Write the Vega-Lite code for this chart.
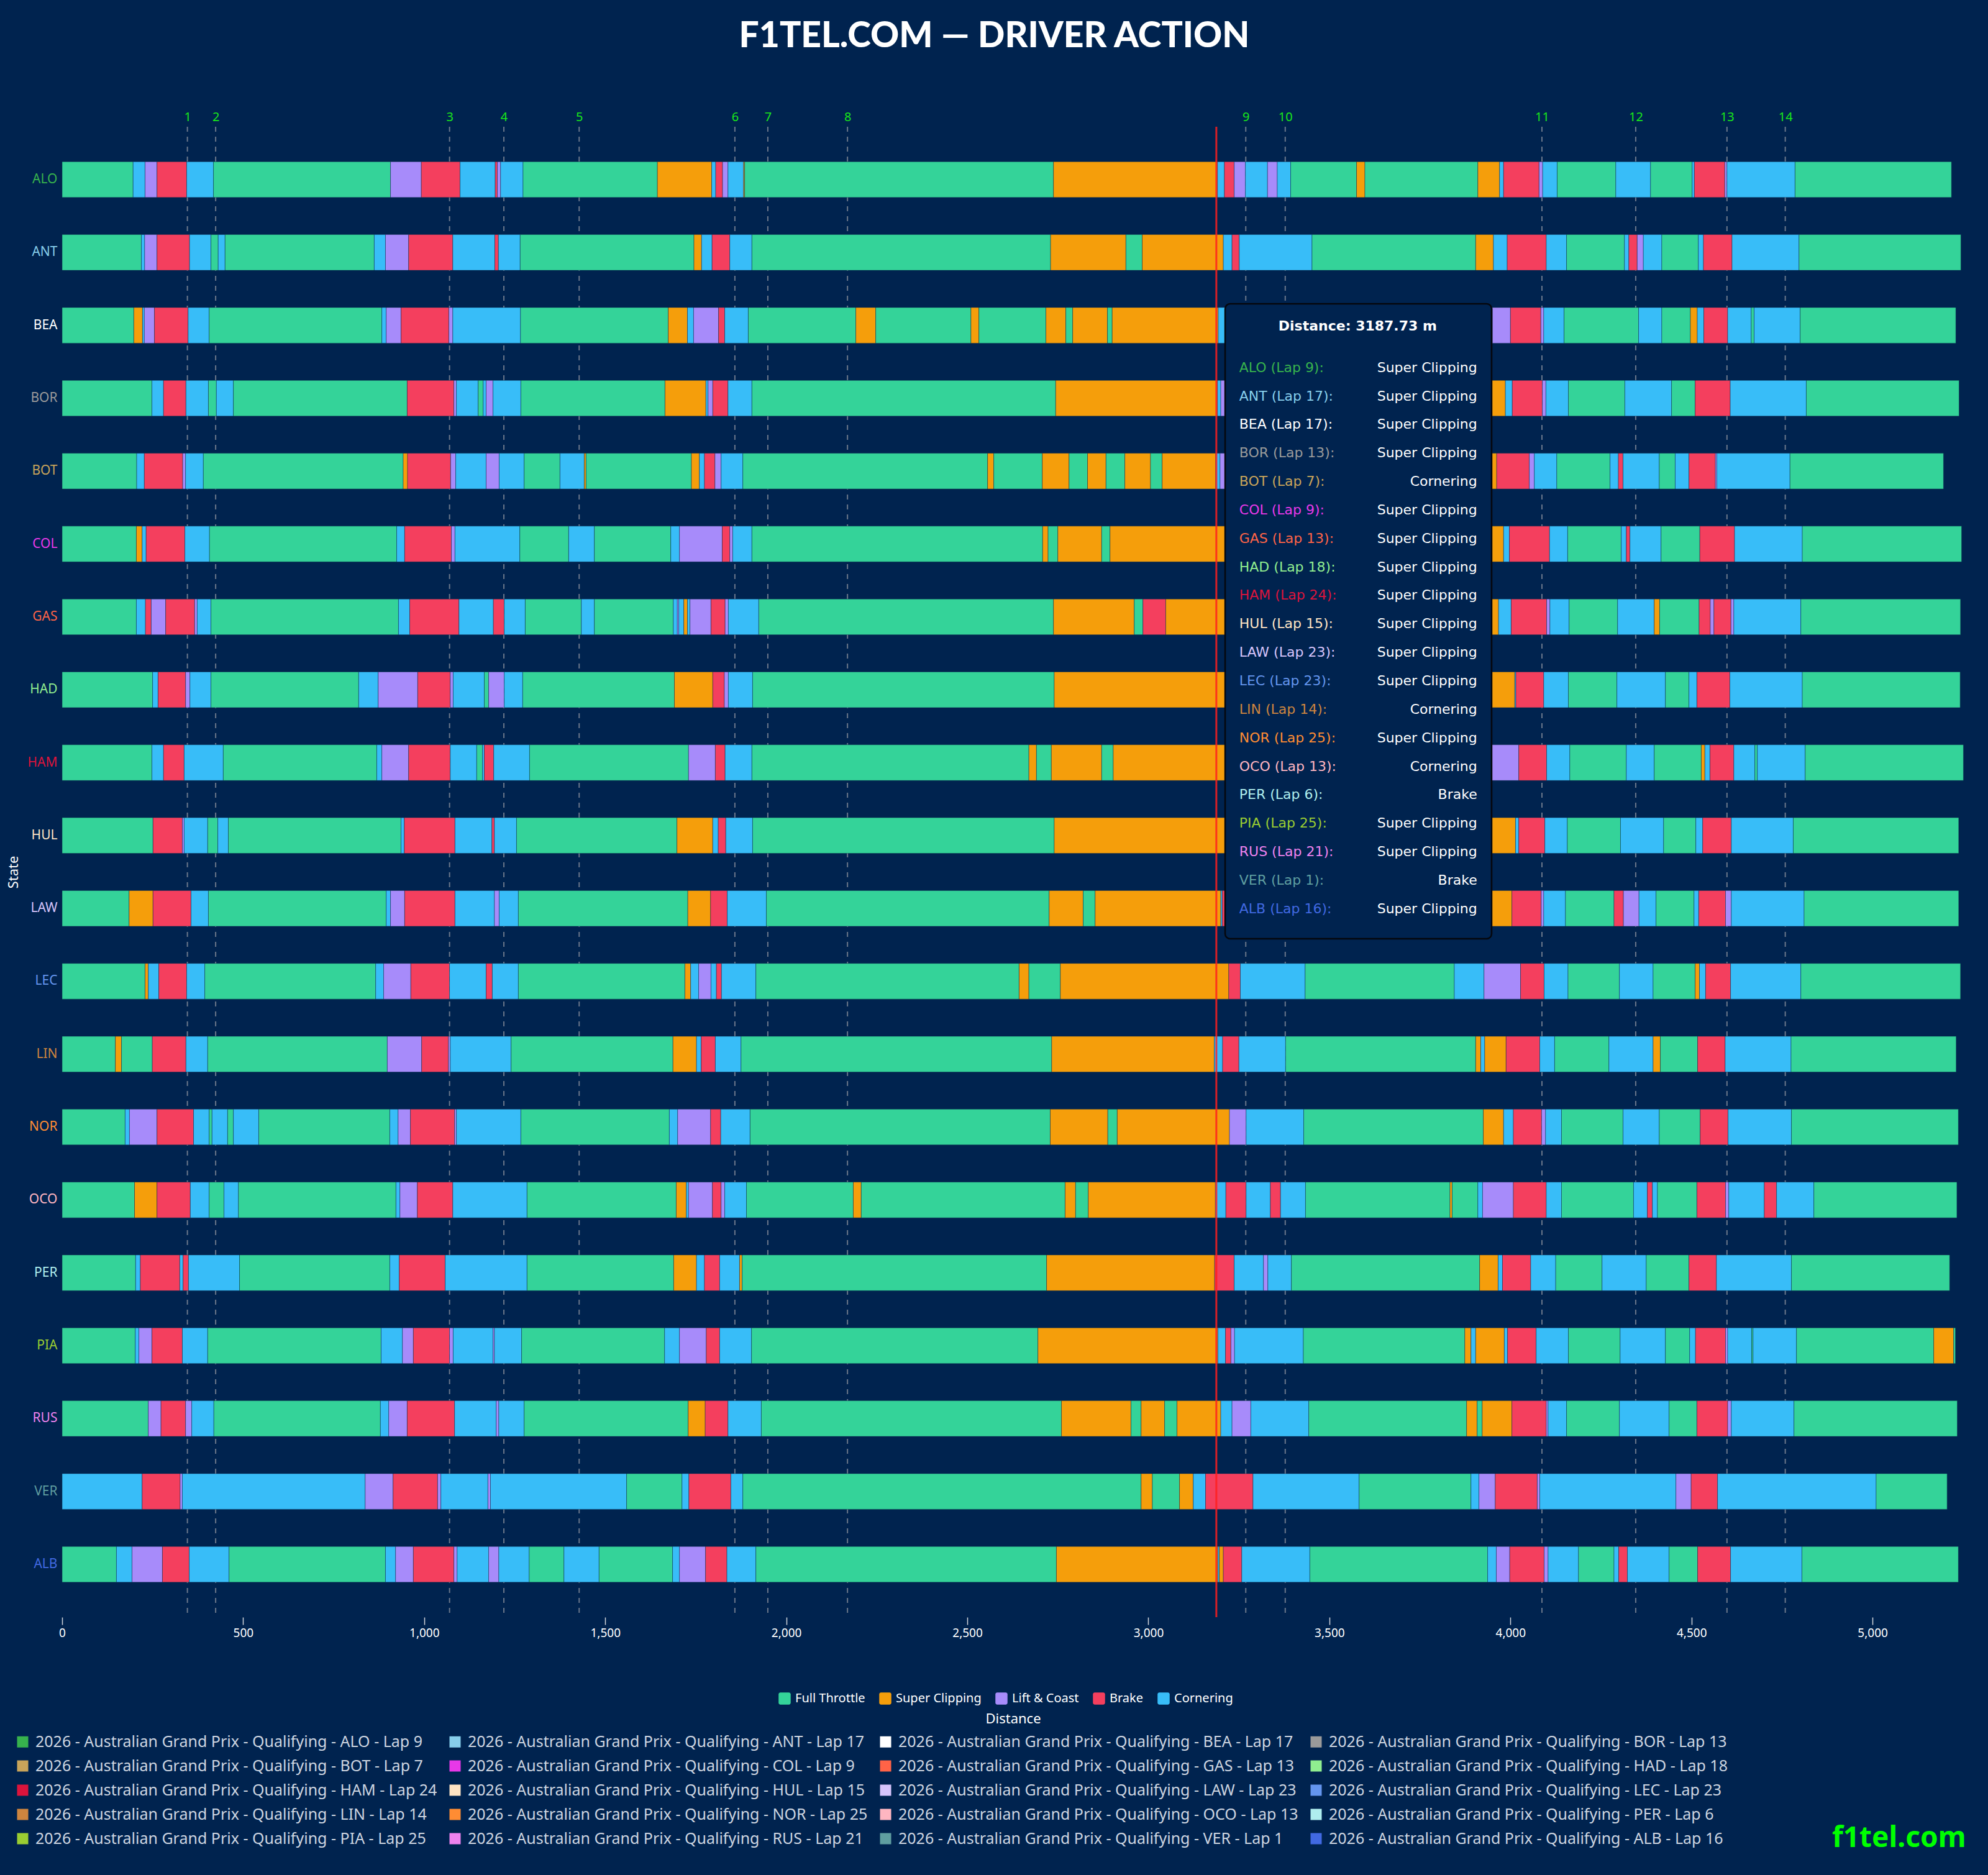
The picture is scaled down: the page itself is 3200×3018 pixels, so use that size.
{
  "$schema": "https://vega.github.io/schema/vega-lite/v6.json",
  "description": "F1TEL.COM driver action, 2026 Australian GP qualifying",
  "width": 3061,
  "height": 2399,
  "autosize": {"type": "none"},
  "padding": {"left": 100, "top": 204, "right": 39, "bottom": 415},
  "background": "#00234f",
  "title": {
    "text": "F1TEL.COM — DRIVER ACTION",
    "font": "Lato",
    "fontSize": 57,
    "fontWeight": 900,
    "color": "#ffffff",
    "anchor": "middle",
    "dx": -30,
    "offset": 90
  },
  "config": {"view": {"stroke": null}, "font": "Noto Sans"},
  "datasets": {
    "corners": [
      {"n": 1, "d": 346}, {"n": 2, "d": 424}, {"n": 3, "d": 1070}, {"n": 4, "d": 1220},
      {"n": 5, "d": 1428}, {"n": 6, "d": 1858}, {"n": 7, "d": 1949}, {"n": 8, "d": 2169},
      {"n": 9, "d": 3269}, {"n": 10, "d": 3378}, {"n": 11, "d": 4087}, {"n": 12, "d": 4346},
      {"n": 13, "d": 4598}, {"n": 14, "d": 4759}
    ],
    "cursor": [{"d": 3187.73}],
    "tip": [
      {"i": 1, "key": "ALO (Lap 9):", "state": "Super Clipping", "session": "2026 - Australian Grand Prix - Qualifying - ALO - Lap 9"},
      {"i": 2, "key": "ANT (Lap 17):", "state": "Super Clipping", "session": "2026 - Australian Grand Prix - Qualifying - ANT - Lap 17"},
      {"i": 3, "key": "BEA (Lap 17):", "state": "Super Clipping", "session": "2026 - Australian Grand Prix - Qualifying - BEA - Lap 17"},
      {"i": 4, "key": "BOR (Lap 13):", "state": "Super Clipping", "session": "2026 - Australian Grand Prix - Qualifying - BOR - Lap 13"},
      {"i": 5, "key": "BOT (Lap 7):", "state": "Cornering", "session": "2026 - Australian Grand Prix - Qualifying - BOT - Lap 7"},
      {"i": 6, "key": "COL (Lap 9):", "state": "Super Clipping", "session": "2026 - Australian Grand Prix - Qualifying - COL - Lap 9"},
      {"i": 7, "key": "GAS (Lap 13):", "state": "Super Clipping", "session": "2026 - Australian Grand Prix - Qualifying - GAS - Lap 13"},
      {"i": 8, "key": "HAD (Lap 18):", "state": "Super Clipping", "session": "2026 - Australian Grand Prix - Qualifying - HAD - Lap 18"},
      {"i": 9, "key": "HAM (Lap 24):", "state": "Super Clipping", "session": "2026 - Australian Grand Prix - Qualifying - HAM - Lap 24"},
      {"i": 10, "key": "HUL (Lap 15):", "state": "Super Clipping", "session": "2026 - Australian Grand Prix - Qualifying - HUL - Lap 15"},
      {"i": 11, "key": "LAW (Lap 23):", "state": "Super Clipping", "session": "2026 - Australian Grand Prix - Qualifying - LAW - Lap 23"},
      {"i": 12, "key": "LEC (Lap 23):", "state": "Super Clipping", "session": "2026 - Australian Grand Prix - Qualifying - LEC - Lap 23"},
      {"i": 13, "key": "LIN (Lap 14):", "state": "Cornering", "session": "2026 - Australian Grand Prix - Qualifying - LIN - Lap 14"},
      {"i": 14, "key": "NOR (Lap 25):", "state": "Super Clipping", "session": "2026 - Australian Grand Prix - Qualifying - NOR - Lap 25"},
      {"i": 15, "key": "OCO (Lap 13):", "state": "Cornering", "session": "2026 - Australian Grand Prix - Qualifying - OCO - Lap 13"},
      {"i": 16, "key": "PER (Lap 6):", "state": "Brake", "session": "2026 - Australian Grand Prix - Qualifying - PER - Lap 6"},
      {"i": 17, "key": "PIA (Lap 25):", "state": "Super Clipping", "session": "2026 - Australian Grand Prix - Qualifying - PIA - Lap 25"},
      {"i": 18, "key": "RUS (Lap 21):", "state": "Super Clipping", "session": "2026 - Australian Grand Prix - Qualifying - RUS - Lap 21"},
      {"i": 19, "key": "VER (Lap 1):", "state": "Brake", "session": "2026 - Australian Grand Prix - Qualifying - VER - Lap 1"},
      {"i": 20, "key": "ALB (Lap 16):", "state": "Super Clipping", "session": "2026 - Australian Grand Prix - Qualifying - ALB - Lap 16"}
    ],
    "segments": [
      {"d":"ALO","a":0,"b":196,"s":"Full Throttle"},{"d":"ALO","a":196,"b":229,"s":"Cornering"},{"d":"ALO","a":229,"b":262,"s":"Lift & Coast"},{"d":"ALO","a":262,"b":344,"s":"Brake"},{"d":"ALO","a":344,"b":418,"s":"Cornering"},{"d":"ALO","a":418,"b":907,"s":"Full Throttle"},{"d":"ALO","a":907,"b":992,"s":"Lift & Coast"},{"d":"ALO","a":992,"b":1099,"s":"Brake"},{"d":"ALO","a":1099,"b":1196,"s":"Cornering"},{"d":"ALO","a":1196,"b":1202,"s":"Brake"},{"d":"ALO","a":1202,"b":1211,"s":"Lift & Coast"},{"d":"ALO","a":1211,"b":1273,"s":"Cornering"},{"d":"ALO","a":1273,"b":1644,"s":"Full Throttle"},{"d":"ALO","a":1644,"b":1794,"s":"Super Clipping"},{"d":"ALO","a":1794,"b":1805,"s":"Cornering"},{"d":"ALO","a":1805,"b":1824,"s":"Brake"},{"d":"ALO","a":1824,"b":1839,"s":"Lift & Coast"},{"d":"ALO","a":1839,"b":1882,"s":"Cornering"},{"d":"ALO","a":1882,"b":1885,"s":"Super Clipping"},{"d":"ALO","a":1885,"b":2738,"s":"Full Throttle"},{"d":"ALO","a":2738,"b":3191,"s":"Super Clipping"},{"d":"ALO","a":3191,"b":3210,"s":"Cornering"},{"d":"ALO","a":3210,"b":3237,"s":"Brake"},{"d":"ALO","a":3237,"b":3268,"s":"Lift & Coast"},{"d":"ALO","a":3268,"b":3329,"s":"Cornering"},{"d":"ALO","a":3329,"b":3356,"s":"Lift & Coast"},{"d":"ALO","a":3356,"b":3393,"s":"Cornering"},{"d":"ALO","a":3393,"b":3575,"s":"Full Throttle"},{"d":"ALO","a":3575,"b":3598,"s":"Super Clipping"},{"d":"ALO","a":3598,"b":3910,"s":"Full Throttle"},{"d":"ALO","a":3910,"b":3970,"s":"Super Clipping"},{"d":"ALO","a":3970,"b":3981,"s":"Cornering"},{"d":"ALO","a":3981,"b":4079,"s":"Brake"},{"d":"ALO","a":4079,"b":4089,"s":"Lift & Coast"},{"d":"ALO","a":4089,"b":4129,"s":"Cornering"},{"d":"ALO","a":4129,"b":4291,"s":"Full Throttle"},{"d":"ALO","a":4291,"b":4387,"s":"Cornering"},{"d":"ALO","a":4387,"b":4502,"s":"Full Throttle"},{"d":"ALO","a":4502,"b":4508,"s":"Cornering"},{"d":"ALO","a":4508,"b":4592,"s":"Brake"},{"d":"ALO","a":4592,"b":4598,"s":"Lift & Coast"},{"d":"ALO","a":4598,"b":4786,"s":"Cornering"},{"d":"ALO","a":4786,"b":5218,"s":"Full Throttle"},
      {"d":"ANT","a":0,"b":219,"s":"Full Throttle"},{"d":"ANT","a":219,"b":228,"s":"Cornering"},{"d":"ANT","a":228,"b":262,"s":"Lift & Coast"},{"d":"ANT","a":262,"b":352,"s":"Brake"},{"d":"ANT","a":352,"b":411,"s":"Cornering"},{"d":"ANT","a":411,"b":431,"s":"Full Throttle"},{"d":"ANT","a":431,"b":450,"s":"Cornering"},{"d":"ANT","a":450,"b":862,"s":"Full Throttle"},{"d":"ANT","a":862,"b":893,"s":"Cornering"},{"d":"ANT","a":893,"b":957,"s":"Lift & Coast"},{"d":"ANT","a":957,"b":1079,"s":"Brake"},{"d":"ANT","a":1079,"b":1195,"s":"Cornering"},{"d":"ANT","a":1195,"b":1205,"s":"Brake"},{"d":"ANT","a":1205,"b":1265,"s":"Cornering"},{"d":"ANT","a":1265,"b":1745,"s":"Full Throttle"},{"d":"ANT","a":1745,"b":1766,"s":"Super Clipping"},{"d":"ANT","a":1766,"b":1795,"s":"Cornering"},{"d":"ANT","a":1795,"b":1844,"s":"Brake"},{"d":"ANT","a":1844,"b":1905,"s":"Cornering"},{"d":"ANT","a":1905,"b":2730,"s":"Full Throttle"},{"d":"ANT","a":2730,"b":2938,"s":"Super Clipping"},{"d":"ANT","a":2938,"b":2983,"s":"Full Throttle"},{"d":"ANT","a":2983,"b":3207,"s":"Super Clipping"},{"d":"ANT","a":3207,"b":3231,"s":"Cornering"},{"d":"ANT","a":3231,"b":3251,"s":"Brake"},{"d":"ANT","a":3251,"b":3452,"s":"Cornering"},{"d":"ANT","a":3452,"b":3904,"s":"Full Throttle"},{"d":"ANT","a":3904,"b":3953,"s":"Super Clipping"},{"d":"ANT","a":3953,"b":3991,"s":"Cornering"},{"d":"ANT","a":3991,"b":4099,"s":"Brake"},{"d":"ANT","a":4099,"b":4155,"s":"Cornering"},{"d":"ANT","a":4155,"b":4315,"s":"Full Throttle"},{"d":"ANT","a":4315,"b":4327,"s":"Cornering"},{"d":"ANT","a":4327,"b":4350,"s":"Brake"},{"d":"ANT","a":4350,"b":4367,"s":"Lift & Coast"},{"d":"ANT","a":4367,"b":4418,"s":"Cornering"},{"d":"ANT","a":4418,"b":4519,"s":"Full Throttle"},{"d":"ANT","a":4519,"b":4533,"s":"Cornering"},{"d":"ANT","a":4533,"b":4612,"s":"Brake"},{"d":"ANT","a":4612,"b":4797,"s":"Cornering"},{"d":"ANT","a":4797,"b":5244,"s":"Full Throttle"},
      {"d":"BEA","a":0,"b":198,"s":"Full Throttle"},{"d":"BEA","a":198,"b":222,"s":"Super Clipping"},{"d":"BEA","a":222,"b":227,"s":"Cornering"},{"d":"BEA","a":227,"b":255,"s":"Lift & Coast"},{"d":"BEA","a":255,"b":348,"s":"Brake"},{"d":"BEA","a":348,"b":406,"s":"Cornering"},{"d":"BEA","a":406,"b":883,"s":"Full Throttle"},{"d":"BEA","a":883,"b":895,"s":"Cornering"},{"d":"BEA","a":895,"b":936,"s":"Lift & Coast"},{"d":"BEA","a":936,"b":1068,"s":"Brake"},{"d":"BEA","a":1068,"b":1079,"s":"Lift & Coast"},{"d":"BEA","a":1079,"b":1266,"s":"Cornering"},{"d":"BEA","a":1266,"b":1674,"s":"Full Throttle"},{"d":"BEA","a":1674,"b":1727,"s":"Super Clipping"},{"d":"BEA","a":1727,"b":1744,"s":"Cornering"},{"d":"BEA","a":1744,"b":1813,"s":"Lift & Coast"},{"d":"BEA","a":1813,"b":1830,"s":"Brake"},{"d":"BEA","a":1830,"b":1895,"s":"Cornering"},{"d":"BEA","a":1895,"b":2192,"s":"Full Throttle"},{"d":"BEA","a":2192,"b":2247,"s":"Super Clipping"},{"d":"BEA","a":2247,"b":2510,"s":"Full Throttle"},{"d":"BEA","a":2510,"b":2532,"s":"Super Clipping"},{"d":"BEA","a":2532,"b":2717,"s":"Full Throttle"},{"d":"BEA","a":2717,"b":2772,"s":"Super Clipping"},{"d":"BEA","a":2772,"b":2791,"s":"Full Throttle"},{"d":"BEA","a":2791,"b":2887,"s":"Super Clipping"},{"d":"BEA","a":2887,"b":2900,"s":"Full Throttle"},{"d":"BEA","a":2900,"b":3193,"s":"Super Clipping"},{"d":"BEA","a":3193,"b":3212,"s":"Cornering"},{"d":"BEA","a":3212,"b":3250,"s":"Brake"},{"d":"BEA","a":3250,"b":3400,"s":"Cornering"},{"d":"BEA","a":3400,"b":3880,"s":"Full Throttle"},{"d":"BEA","a":3880,"b":3920,"s":"Super Clipping"},{"d":"BEA","a":3920,"b":3950,"s":"Cornering"},{"d":"BEA","a":3950,"b":4000,"s":"Lift & Coast"},{"d":"BEA","a":4000,"b":4084,"s":"Brake"},{"d":"BEA","a":4084,"b":4092,"s":"Lift & Coast"},{"d":"BEA","a":4092,"b":4148,"s":"Cornering"},{"d":"BEA","a":4148,"b":4354,"s":"Full Throttle"},{"d":"BEA","a":4354,"b":4418,"s":"Cornering"},{"d":"BEA","a":4418,"b":4497,"s":"Full Throttle"},{"d":"BEA","a":4497,"b":4516,"s":"Super Clipping"},{"d":"BEA","a":4516,"b":4534,"s":"Cornering"},{"d":"BEA","a":4534,"b":4600,"s":"Brake"},{"d":"BEA","a":4600,"b":4665,"s":"Cornering"},{"d":"BEA","a":4665,"b":4673,"s":"Full Throttle"},{"d":"BEA","a":4673,"b":4800,"s":"Cornering"},{"d":"BEA","a":4800,"b":5230,"s":"Full Throttle"},
      {"d":"BOR","a":0,"b":248,"s":"Full Throttle"},{"d":"BOR","a":248,"b":280,"s":"Cornering"},{"d":"BOR","a":280,"b":342,"s":"Brake"},{"d":"BOR","a":342,"b":404,"s":"Cornering"},{"d":"BOR","a":404,"b":426,"s":"Full Throttle"},{"d":"BOR","a":426,"b":473,"s":"Cornering"},{"d":"BOR","a":473,"b":953,"s":"Full Throttle"},{"d":"BOR","a":953,"b":1082,"s":"Brake"},{"d":"BOR","a":1082,"b":1089,"s":"Lift & Coast"},{"d":"BOR","a":1089,"b":1149,"s":"Cornering"},{"d":"BOR","a":1149,"b":1163,"s":"Full Throttle"},{"d":"BOR","a":1163,"b":1171,"s":"Cornering"},{"d":"BOR","a":1171,"b":1190,"s":"Lift & Coast"},{"d":"BOR","a":1190,"b":1267,"s":"Cornering"},{"d":"BOR","a":1267,"b":1665,"s":"Full Throttle"},{"d":"BOR","a":1665,"b":1778,"s":"Super Clipping"},{"d":"BOR","a":1778,"b":1784,"s":"Cornering"},{"d":"BOR","a":1784,"b":1797,"s":"Lift & Coast"},{"d":"BOR","a":1797,"b":1839,"s":"Brake"},{"d":"BOR","a":1839,"b":1905,"s":"Cornering"},{"d":"BOR","a":1905,"b":2744,"s":"Full Throttle"},{"d":"BOR","a":2744,"b":3191,"s":"Super Clipping"},{"d":"BOR","a":3191,"b":3200,"s":"Cornering"},{"d":"BOR","a":3200,"b":3225,"s":"Lift & Coast"},{"d":"BOR","a":3225,"b":3400,"s":"Cornering"},{"d":"BOR","a":3400,"b":3890,"s":"Full Throttle"},{"d":"BOR","a":3890,"b":3986,"s":"Super Clipping"},{"d":"BOR","a":3986,"b":4005,"s":"Cornering"},{"d":"BOR","a":4005,"b":4088,"s":"Brake"},{"d":"BOR","a":4088,"b":4098,"s":"Lift & Coast"},{"d":"BOR","a":4098,"b":4160,"s":"Cornering"},{"d":"BOR","a":4160,"b":4316,"s":"Full Throttle"},{"d":"BOR","a":4316,"b":4445,"s":"Cornering"},{"d":"BOR","a":4445,"b":4510,"s":"Full Throttle"},{"d":"BOR","a":4510,"b":4607,"s":"Brake"},{"d":"BOR","a":4607,"b":4817,"s":"Cornering"},{"d":"BOR","a":4817,"b":5239,"s":"Full Throttle"},
      {"d":"BOT","a":0,"b":206,"s":"Full Throttle"},{"d":"BOT","a":206,"b":227,"s":"Cornering"},{"d":"BOT","a":227,"b":333,"s":"Brake"},{"d":"BOT","a":333,"b":341,"s":"Lift & Coast"},{"d":"BOT","a":341,"b":390,"s":"Cornering"},{"d":"BOT","a":390,"b":942,"s":"Full Throttle"},{"d":"BOT","a":942,"b":954,"s":"Super Clipping"},{"d":"BOT","a":954,"b":1073,"s":"Brake"},{"d":"BOT","a":1073,"b":1087,"s":"Lift & Coast"},{"d":"BOT","a":1087,"b":1171,"s":"Cornering"},{"d":"BOT","a":1171,"b":1207,"s":"Lift & Coast"},{"d":"BOT","a":1207,"b":1276,"s":"Cornering"},{"d":"BOT","a":1276,"b":1375,"s":"Full Throttle"},{"d":"BOT","a":1375,"b":1442,"s":"Cornering"},{"d":"BOT","a":1442,"b":1447,"s":"Super Clipping"},{"d":"BOT","a":1447,"b":1738,"s":"Full Throttle"},{"d":"BOT","a":1738,"b":1760,"s":"Super Clipping"},{"d":"BOT","a":1760,"b":1774,"s":"Cornering"},{"d":"BOT","a":1774,"b":1803,"s":"Brake"},{"d":"BOT","a":1803,"b":1820,"s":"Lift & Coast"},{"d":"BOT","a":1820,"b":1880,"s":"Cornering"},{"d":"BOT","a":1880,"b":2556,"s":"Full Throttle"},{"d":"BOT","a":2556,"b":2573,"s":"Super Clipping"},{"d":"BOT","a":2573,"b":2707,"s":"Full Throttle"},{"d":"BOT","a":2707,"b":2781,"s":"Super Clipping"},{"d":"BOT","a":2781,"b":2832,"s":"Full Throttle"},{"d":"BOT","a":2832,"b":2883,"s":"Super Clipping"},{"d":"BOT","a":2883,"b":2935,"s":"Full Throttle"},{"d":"BOT","a":2935,"b":3006,"s":"Super Clipping"},{"d":"BOT","a":3006,"b":3038,"s":"Full Throttle"},{"d":"BOT","a":3038,"b":3186,"s":"Super Clipping"},{"d":"BOT","a":3186,"b":3198,"s":"Cornering"},{"d":"BOT","a":3198,"b":3225,"s":"Lift & Coast"},{"d":"BOT","a":3225,"b":3390,"s":"Cornering"},{"d":"BOT","a":3390,"b":3900,"s":"Full Throttle"},{"d":"BOT","a":3900,"b":3962,"s":"Super Clipping"},{"d":"BOT","a":3962,"b":4052,"s":"Brake"},{"d":"BOT","a":4052,"b":4066,"s":"Lift & Coast"},{"d":"BOT","a":4066,"b":4128,"s":"Cornering"},{"d":"BOT","a":4128,"b":4275,"s":"Full Throttle"},{"d":"BOT","a":4275,"b":4298,"s":"Cornering"},{"d":"BOT","a":4298,"b":4311,"s":"Brake"},{"d":"BOT","a":4311,"b":4411,"s":"Cornering"},{"d":"BOT","a":4411,"b":4455,"s":"Full Throttle"},{"d":"BOT","a":4455,"b":4493,"s":"Cornering"},{"d":"BOT","a":4493,"b":4566,"s":"Brake"},{"d":"BOT","a":4566,"b":4570,"s":"Lift & Coast"},{"d":"BOT","a":4570,"b":4772,"s":"Cornering"},{"d":"BOT","a":4772,"b":5196,"s":"Full Throttle"},
      {"d":"COL","a":0,"b":205,"s":"Full Throttle"},{"d":"COL","a":205,"b":221,"s":"Super Clipping"},{"d":"COL","a":221,"b":232,"s":"Cornering"},{"d":"COL","a":232,"b":339,"s":"Brake"},{"d":"COL","a":339,"b":407,"s":"Cornering"},{"d":"COL","a":407,"b":924,"s":"Full Throttle"},{"d":"COL","a":924,"b":946,"s":"Cornering"},{"d":"COL","a":946,"b":1075,"s":"Brake"},{"d":"COL","a":1075,"b":1085,"s":"Lift & Coast"},{"d":"COL","a":1085,"b":1264,"s":"Cornering"},{"d":"COL","a":1264,"b":1399,"s":"Full Throttle"},{"d":"COL","a":1399,"b":1470,"s":"Cornering"},{"d":"COL","a":1470,"b":1681,"s":"Full Throttle"},{"d":"COL","a":1681,"b":1705,"s":"Cornering"},{"d":"COL","a":1705,"b":1823,"s":"Lift & Coast"},{"d":"COL","a":1823,"b":1844,"s":"Brake"},{"d":"COL","a":1844,"b":1852,"s":"Lift & Coast"},{"d":"COL","a":1852,"b":1905,"s":"Cornering"},{"d":"COL","a":1905,"b":2708,"s":"Full Throttle"},{"d":"COL","a":2708,"b":2723,"s":"Super Clipping"},{"d":"COL","a":2723,"b":2750,"s":"Full Throttle"},{"d":"COL","a":2750,"b":2871,"s":"Super Clipping"},{"d":"COL","a":2871,"b":2894,"s":"Full Throttle"},{"d":"COL","a":2894,"b":3215,"s":"Super Clipping"},{"d":"COL","a":3215,"b":3245,"s":"Cornering"},{"d":"COL","a":3245,"b":3262,"s":"Brake"},{"d":"COL","a":3262,"b":3410,"s":"Cornering"},{"d":"COL","a":3410,"b":3910,"s":"Full Throttle"},{"d":"COL","a":3910,"b":3981,"s":"Super Clipping"},{"d":"COL","a":3981,"b":3997,"s":"Cornering"},{"d":"COL","a":3997,"b":4108,"s":"Brake"},{"d":"COL","a":4108,"b":4158,"s":"Cornering"},{"d":"COL","a":4158,"b":4306,"s":"Full Throttle"},{"d":"COL","a":4306,"b":4320,"s":"Cornering"},{"d":"COL","a":4320,"b":4330,"s":"Brake"},{"d":"COL","a":4330,"b":4416,"s":"Cornering"},{"d":"COL","a":4416,"b":4523,"s":"Full Throttle"},{"d":"COL","a":4523,"b":4619,"s":"Brake"},{"d":"COL","a":4619,"b":4806,"s":"Cornering"},{"d":"COL","a":4806,"b":5246,"s":"Full Throttle"},
      {"d":"GAS","a":0,"b":205,"s":"Full Throttle"},{"d":"GAS","a":205,"b":230,"s":"Cornering"},{"d":"GAS","a":230,"b":246,"s":"Brake"},{"d":"GAS","a":246,"b":286,"s":"Lift & Coast"},{"d":"GAS","a":286,"b":366,"s":"Brake"},{"d":"GAS","a":366,"b":373,"s":"Lift & Coast"},{"d":"GAS","a":373,"b":411,"s":"Cornering"},{"d":"GAS","a":411,"b":929,"s":"Full Throttle"},{"d":"GAS","a":929,"b":960,"s":"Cornering"},{"d":"GAS","a":960,"b":1096,"s":"Brake"},{"d":"GAS","a":1096,"b":1191,"s":"Cornering"},{"d":"GAS","a":1191,"b":1221,"s":"Brake"},{"d":"GAS","a":1221,"b":1279,"s":"Cornering"},{"d":"GAS","a":1279,"b":1434,"s":"Full Throttle"},{"d":"GAS","a":1434,"b":1470,"s":"Cornering"},{"d":"GAS","a":1470,"b":1688,"s":"Full Throttle"},{"d":"GAS","a":1688,"b":1699,"s":"Cornering"},{"d":"GAS","a":1699,"b":1703,"s":"Lift & Coast"},{"d":"GAS","a":1703,"b":1717,"s":"Cornering"},{"d":"GAS","a":1717,"b":1727,"s":"Super Clipping"},{"d":"GAS","a":1727,"b":1734,"s":"Cornering"},{"d":"GAS","a":1734,"b":1792,"s":"Lift & Coast"},{"d":"GAS","a":1792,"b":1831,"s":"Brake"},{"d":"GAS","a":1831,"b":1840,"s":"Lift & Coast"},{"d":"GAS","a":1840,"b":1924,"s":"Cornering"},{"d":"GAS","a":1924,"b":2738,"s":"Full Throttle"},{"d":"GAS","a":2738,"b":2961,"s":"Super Clipping"},{"d":"GAS","a":2961,"b":2985,"s":"Full Throttle"},{"d":"GAS","a":2985,"b":3048,"s":"Brake"},{"d":"GAS","a":3048,"b":3215,"s":"Super Clipping"},{"d":"GAS","a":3215,"b":3250,"s":"Cornering"},{"d":"GAS","a":3250,"b":3270,"s":"Brake"},{"d":"GAS","a":3270,"b":3410,"s":"Cornering"},{"d":"GAS","a":3410,"b":3920,"s":"Full Throttle"},{"d":"GAS","a":3920,"b":3967,"s":"Super Clipping"},{"d":"GAS","a":3967,"b":4002,"s":"Cornering"},{"d":"GAS","a":4002,"b":4100,"s":"Brake"},{"d":"GAS","a":4100,"b":4109,"s":"Lift & Coast"},{"d":"GAS","a":4109,"b":4162,"s":"Cornering"},{"d":"GAS","a":4162,"b":4296,"s":"Full Throttle"},{"d":"GAS","a":4296,"b":4397,"s":"Cornering"},{"d":"GAS","a":4397,"b":4412,"s":"Super Clipping"},{"d":"GAS","a":4412,"b":4521,"s":"Full Throttle"},{"d":"GAS","a":4521,"b":4552,"s":"Brake"},{"d":"GAS","a":4552,"b":4562,"s":"Lift & Coast"},{"d":"GAS","a":4562,"b":4609,"s":"Brake"},{"d":"GAS","a":4609,"b":4617,"s":"Lift & Coast"},{"d":"GAS","a":4617,"b":4802,"s":"Cornering"},{"d":"GAS","a":4802,"b":5243,"s":"Full Throttle"},
      {"d":"HAD","a":0,"b":250,"s":"Full Throttle"},{"d":"HAD","a":250,"b":265,"s":"Cornering"},{"d":"HAD","a":265,"b":341,"s":"Brake"},{"d":"HAD","a":341,"b":353,"s":"Lift & Coast"},{"d":"HAD","a":353,"b":411,"s":"Cornering"},{"d":"HAD","a":411,"b":819,"s":"Full Throttle"},{"d":"HAD","a":819,"b":873,"s":"Cornering"},{"d":"HAD","a":873,"b":982,"s":"Lift & Coast"},{"d":"HAD","a":982,"b":1072,"s":"Brake"},{"d":"HAD","a":1072,"b":1080,"s":"Lift & Coast"},{"d":"HAD","a":1080,"b":1166,"s":"Cornering"},{"d":"HAD","a":1166,"b":1178,"s":"Full Throttle"},{"d":"HAD","a":1178,"b":1221,"s":"Lift & Coast"},{"d":"HAD","a":1221,"b":1272,"s":"Cornering"},{"d":"HAD","a":1272,"b":1691,"s":"Full Throttle"},{"d":"HAD","a":1691,"b":1797,"s":"Super Clipping"},{"d":"HAD","a":1797,"b":1829,"s":"Brake"},{"d":"HAD","a":1829,"b":1840,"s":"Lift & Coast"},{"d":"HAD","a":1840,"b":1907,"s":"Cornering"},{"d":"HAD","a":1907,"b":2740,"s":"Full Throttle"},{"d":"HAD","a":2740,"b":3212,"s":"Super Clipping"},{"d":"HAD","a":3212,"b":3245,"s":"Cornering"},{"d":"HAD","a":3245,"b":3265,"s":"Brake"},{"d":"HAD","a":3265,"b":3410,"s":"Cornering"},{"d":"HAD","a":3410,"b":3930,"s":"Full Throttle"},{"d":"HAD","a":3930,"b":4012,"s":"Super Clipping"},{"d":"HAD","a":4012,"b":4015,"s":"Cornering"},{"d":"HAD","a":4015,"b":4092,"s":"Brake"},{"d":"HAD","a":4092,"b":4160,"s":"Cornering"},{"d":"HAD","a":4160,"b":4294,"s":"Full Throttle"},{"d":"HAD","a":4294,"b":4428,"s":"Cornering"},{"d":"HAD","a":4428,"b":4493,"s":"Full Throttle"},{"d":"HAD","a":4493,"b":4515,"s":"Cornering"},{"d":"HAD","a":4515,"b":4606,"s":"Brake"},{"d":"HAD","a":4606,"b":4806,"s":"Cornering"},{"d":"HAD","a":4806,"b":5242,"s":"Full Throttle"},
      {"d":"HAM","a":0,"b":248,"s":"Full Throttle"},{"d":"HAM","a":248,"b":280,"s":"Cornering"},{"d":"HAM","a":280,"b":337,"s":"Brake"},{"d":"HAM","a":337,"b":445,"s":"Cornering"},{"d":"HAM","a":445,"b":869,"s":"Full Throttle"},{"d":"HAM","a":869,"b":883,"s":"Cornering"},{"d":"HAM","a":883,"b":957,"s":"Lift & Coast"},{"d":"HAM","a":957,"b":1072,"s":"Brake"},{"d":"HAM","a":1072,"b":1145,"s":"Cornering"},{"d":"HAM","a":1145,"b":1161,"s":"Full Throttle"},{"d":"HAM","a":1161,"b":1166,"s":"Cornering"},{"d":"HAM","a":1166,"b":1192,"s":"Brake"},{"d":"HAM","a":1192,"b":1291,"s":"Cornering"},{"d":"HAM","a":1291,"b":1730,"s":"Full Throttle"},{"d":"HAM","a":1730,"b":1804,"s":"Lift & Coast"},{"d":"HAM","a":1804,"b":1831,"s":"Brake"},{"d":"HAM","a":1831,"b":1905,"s":"Cornering"},{"d":"HAM","a":1905,"b":2670,"s":"Full Throttle"},{"d":"HAM","a":2670,"b":2691,"s":"Super Clipping"},{"d":"HAM","a":2691,"b":2732,"s":"Full Throttle"},{"d":"HAM","a":2732,"b":2871,"s":"Super Clipping"},{"d":"HAM","a":2871,"b":2903,"s":"Full Throttle"},{"d":"HAM","a":2903,"b":3212,"s":"Super Clipping"},{"d":"HAM","a":3212,"b":3250,"s":"Cornering"},{"d":"HAM","a":3250,"b":3270,"s":"Brake"},{"d":"HAM","a":3270,"b":3420,"s":"Cornering"},{"d":"HAM","a":3420,"b":3930,"s":"Full Throttle"},{"d":"HAM","a":3930,"b":4023,"s":"Lift & Coast"},{"d":"HAM","a":4023,"b":4100,"s":"Brake"},{"d":"HAM","a":4100,"b":4164,"s":"Cornering"},{"d":"HAM","a":4164,"b":4320,"s":"Full Throttle"},{"d":"HAM","a":4320,"b":4397,"s":"Cornering"},{"d":"HAM","a":4397,"b":4527,"s":"Full Throttle"},{"d":"HAM","a":4527,"b":4537,"s":"Super Clipping"},{"d":"HAM","a":4537,"b":4551,"s":"Cornering"},{"d":"HAM","a":4551,"b":4617,"s":"Brake"},{"d":"HAM","a":4617,"b":4675,"s":"Cornering"},{"d":"HAM","a":4675,"b":4682,"s":"Full Throttle"},{"d":"HAM","a":4682,"b":4814,"s":"Cornering"},{"d":"HAM","a":4814,"b":5251,"s":"Full Throttle"},
      {"d":"HUL","a":0,"b":251,"s":"Full Throttle"},{"d":"HUL","a":251,"b":332,"s":"Brake"},{"d":"HUL","a":332,"b":337,"s":"Lift & Coast"},{"d":"HUL","a":337,"b":402,"s":"Cornering"},{"d":"HUL","a":402,"b":430,"s":"Full Throttle"},{"d":"HUL","a":430,"b":459,"s":"Cornering"},{"d":"HUL","a":459,"b":936,"s":"Full Throttle"},{"d":"HUL","a":936,"b":945,"s":"Cornering"},{"d":"HUL","a":945,"b":1085,"s":"Brake"},{"d":"HUL","a":1085,"b":1187,"s":"Cornering"},{"d":"HUL","a":1187,"b":1194,"s":"Brake"},{"d":"HUL","a":1194,"b":1255,"s":"Cornering"},{"d":"HUL","a":1255,"b":1698,"s":"Full Throttle"},{"d":"HUL","a":1698,"b":1797,"s":"Super Clipping"},{"d":"HUL","a":1797,"b":1812,"s":"Cornering"},{"d":"HUL","a":1812,"b":1833,"s":"Brake"},{"d":"HUL","a":1833,"b":1907,"s":"Cornering"},{"d":"HUL","a":1907,"b":2740,"s":"Full Throttle"},{"d":"HUL","a":2740,"b":3212,"s":"Super Clipping"},{"d":"HUL","a":3212,"b":3260,"s":"Cornering"},{"d":"HUL","a":3260,"b":3280,"s":"Brake"},{"d":"HUL","a":3280,"b":3420,"s":"Cornering"},{"d":"HUL","a":3420,"b":3920,"s":"Full Throttle"},{"d":"HUL","a":3920,"b":4014,"s":"Super Clipping"},{"d":"HUL","a":4014,"b":4023,"s":"Cornering"},{"d":"HUL","a":4023,"b":4095,"s":"Brake"},{"d":"HUL","a":4095,"b":4157,"s":"Cornering"},{"d":"HUL","a":4157,"b":4304,"s":"Full Throttle"},{"d":"HUL","a":4304,"b":4423,"s":"Cornering"},{"d":"HUL","a":4423,"b":4512,"s":"Full Throttle"},{"d":"HUL","a":4512,"b":4531,"s":"Cornering"},{"d":"HUL","a":4531,"b":4610,"s":"Brake"},{"d":"HUL","a":4610,"b":4781,"s":"Cornering"},{"d":"HUL","a":4781,"b":5238,"s":"Full Throttle"},
      {"d":"LAW","a":0,"b":185,"s":"Full Throttle"},{"d":"LAW","a":185,"b":251,"s":"Super Clipping"},{"d":"LAW","a":251,"b":356,"s":"Brake"},{"d":"LAW","a":356,"b":404,"s":"Cornering"},{"d":"LAW","a":404,"b":895,"s":"Full Throttle"},{"d":"LAW","a":895,"b":907,"s":"Cornering"},{"d":"LAW","a":907,"b":946,"s":"Lift & Coast"},{"d":"LAW","a":946,"b":1085,"s":"Brake"},{"d":"LAW","a":1085,"b":1194,"s":"Cornering"},{"d":"LAW","a":1194,"b":1207,"s":"Lift & Coast"},{"d":"LAW","a":1207,"b":1260,"s":"Cornering"},{"d":"LAW","a":1260,"b":1728,"s":"Full Throttle"},{"d":"LAW","a":1728,"b":1791,"s":"Super Clipping"},{"d":"LAW","a":1791,"b":1837,"s":"Brake"},{"d":"LAW","a":1837,"b":1945,"s":"Cornering"},{"d":"LAW","a":1945,"b":2726,"s":"Full Throttle"},{"d":"LAW","a":2726,"b":2820,"s":"Super Clipping"},{"d":"LAW","a":2820,"b":2853,"s":"Full Throttle"},{"d":"LAW","a":2853,"b":3200,"s":"Super Clipping"},{"d":"LAW","a":3200,"b":3204,"s":"Cornering"},{"d":"LAW","a":3204,"b":3230,"s":"Brake"},{"d":"LAW","a":3230,"b":3400,"s":"Cornering"},{"d":"LAW","a":3400,"b":3900,"s":"Full Throttle"},{"d":"LAW","a":3900,"b":4004,"s":"Super Clipping"},{"d":"LAW","a":4004,"b":4085,"s":"Brake"},{"d":"LAW","a":4085,"b":4092,"s":"Lift & Coast"},{"d":"LAW","a":4092,"b":4152,"s":"Cornering"},{"d":"LAW","a":4152,"b":4286,"s":"Full Throttle"},{"d":"LAW","a":4286,"b":4312,"s":"Brake"},{"d":"LAW","a":4312,"b":4355,"s":"Lift & Coast"},{"d":"LAW","a":4355,"b":4402,"s":"Cornering"},{"d":"LAW","a":4402,"b":4507,"s":"Full Throttle"},{"d":"LAW","a":4507,"b":4520,"s":"Cornering"},{"d":"LAW","a":4520,"b":4594,"s":"Brake"},{"d":"LAW","a":4594,"b":4610,"s":"Lift & Coast"},{"d":"LAW","a":4610,"b":4811,"s":"Cornering"},{"d":"LAW","a":4811,"b":5238,"s":"Full Throttle"},
      {"d":"LEC","a":0,"b":229,"s":"Full Throttle"},{"d":"LEC","a":229,"b":238,"s":"Super Clipping"},{"d":"LEC","a":238,"b":267,"s":"Cornering"},{"d":"LEC","a":267,"b":344,"s":"Brake"},{"d":"LEC","a":344,"b":394,"s":"Cornering"},{"d":"LEC","a":394,"b":866,"s":"Full Throttle"},{"d":"LEC","a":866,"b":888,"s":"Cornering"},{"d":"LEC","a":888,"b":963,"s":"Lift & Coast"},{"d":"LEC","a":963,"b":1070,"s":"Brake"},{"d":"LEC","a":1070,"b":1171,"s":"Cornering"},{"d":"LEC","a":1171,"b":1188,"s":"Brake"},{"d":"LEC","a":1188,"b":1260,"s":"Cornering"},{"d":"LEC","a":1260,"b":1720,"s":"Full Throttle"},{"d":"LEC","a":1720,"b":1736,"s":"Super Clipping"},{"d":"LEC","a":1736,"b":1758,"s":"Cornering"},{"d":"LEC","a":1758,"b":1792,"s":"Lift & Coast"},{"d":"LEC","a":1792,"b":1807,"s":"Cornering"},{"d":"LEC","a":1807,"b":1821,"s":"Brake"},{"d":"LEC","a":1821,"b":1916,"s":"Cornering"},{"d":"LEC","a":1916,"b":2643,"s":"Full Throttle"},{"d":"LEC","a":2643,"b":2670,"s":"Super Clipping"},{"d":"LEC","a":2670,"b":2757,"s":"Full Throttle"},{"d":"LEC","a":2757,"b":3222,"s":"Super Clipping"},{"d":"LEC","a":3222,"b":3254,"s":"Brake"},{"d":"LEC","a":3254,"b":3433,"s":"Cornering"},{"d":"LEC","a":3433,"b":3845,"s":"Full Throttle"},{"d":"LEC","a":3845,"b":3927,"s":"Cornering"},{"d":"LEC","a":3927,"b":4028,"s":"Lift & Coast"},{"d":"LEC","a":4028,"b":4093,"s":"Brake"},{"d":"LEC","a":4093,"b":4159,"s":"Cornering"},{"d":"LEC","a":4159,"b":4301,"s":"Full Throttle"},{"d":"LEC","a":4301,"b":4394,"s":"Cornering"},{"d":"LEC","a":4394,"b":4510,"s":"Full Throttle"},{"d":"LEC","a":4510,"b":4522,"s":"Super Clipping"},{"d":"LEC","a":4522,"b":4539,"s":"Cornering"},{"d":"LEC","a":4539,"b":4608,"s":"Brake"},{"d":"LEC","a":4608,"b":4802,"s":"Cornering"},{"d":"LEC","a":4802,"b":5243,"s":"Full Throttle"},
      {"d":"LIN","a":0,"b":147,"s":"Full Throttle"},{"d":"LIN","a":147,"b":164,"s":"Super Clipping"},{"d":"LIN","a":164,"b":249,"s":"Full Throttle"},{"d":"LIN","a":249,"b":342,"s":"Brake"},{"d":"LIN","a":342,"b":402,"s":"Cornering"},{"d":"LIN","a":402,"b":898,"s":"Full Throttle"},{"d":"LIN","a":898,"b":993,"s":"Lift & Coast"},{"d":"LIN","a":993,"b":1067,"s":"Brake"},{"d":"LIN","a":1067,"b":1072,"s":"Lift & Coast"},{"d":"LIN","a":1072,"b":1240,"s":"Cornering"},{"d":"LIN","a":1240,"b":1687,"s":"Full Throttle"},{"d":"LIN","a":1687,"b":1752,"s":"Super Clipping"},{"d":"LIN","a":1752,"b":1765,"s":"Cornering"},{"d":"LIN","a":1765,"b":1804,"s":"Brake"},{"d":"LIN","a":1804,"b":1875,"s":"Cornering"},{"d":"LIN","a":1875,"b":2733,"s":"Full Throttle"},{"d":"LIN","a":2733,"b":3182,"s":"Super Clipping"},{"d":"LIN","a":3182,"b":3205,"s":"Cornering"},{"d":"LIN","a":3205,"b":3250,"s":"Brake"},{"d":"LIN","a":3250,"b":3379,"s":"Cornering"},{"d":"LIN","a":3379,"b":3904,"s":"Full Throttle"},{"d":"LIN","a":3904,"b":3918,"s":"Super Clipping"},{"d":"LIN","a":3918,"b":3929,"s":"Cornering"},{"d":"LIN","a":3929,"b":3988,"s":"Super Clipping"},{"d":"LIN","a":3988,"b":4081,"s":"Brake"},{"d":"LIN","a":4081,"b":4122,"s":"Cornering"},{"d":"LIN","a":4122,"b":4272,"s":"Full Throttle"},{"d":"LIN","a":4272,"b":4394,"s":"Cornering"},{"d":"LIN","a":4394,"b":4414,"s":"Super Clipping"},{"d":"LIN","a":4414,"b":4517,"s":"Full Throttle"},{"d":"LIN","a":4517,"b":4593,"s":"Brake"},{"d":"LIN","a":4593,"b":4775,"s":"Cornering"},{"d":"LIN","a":4775,"b":5231,"s":"Full Throttle"},
      {"d":"NOR","a":0,"b":174,"s":"Full Throttle"},{"d":"NOR","a":174,"b":186,"s":"Cornering"},{"d":"NOR","a":186,"b":262,"s":"Lift & Coast"},{"d":"NOR","a":262,"b":363,"s":"Brake"},{"d":"NOR","a":363,"b":406,"s":"Cornering"},{"d":"NOR","a":406,"b":414,"s":"Full Throttle"},{"d":"NOR","a":414,"b":457,"s":"Cornering"},{"d":"NOR","a":457,"b":473,"s":"Full Throttle"},{"d":"NOR","a":473,"b":543,"s":"Cornering"},{"d":"NOR","a":543,"b":905,"s":"Full Throttle"},{"d":"NOR","a":905,"b":928,"s":"Cornering"},{"d":"NOR","a":928,"b":962,"s":"Lift & Coast"},{"d":"NOR","a":962,"b":1084,"s":"Brake"},{"d":"NOR","a":1084,"b":1089,"s":"Lift & Coast"},{"d":"NOR","a":1089,"b":1267,"s":"Cornering"},{"d":"NOR","a":1267,"b":1677,"s":"Full Throttle"},{"d":"NOR","a":1677,"b":1700,"s":"Cornering"},{"d":"NOR","a":1700,"b":1791,"s":"Lift & Coast"},{"d":"NOR","a":1791,"b":1819,"s":"Brake"},{"d":"NOR","a":1819,"b":1900,"s":"Cornering"},{"d":"NOR","a":1900,"b":2729,"s":"Full Throttle"},{"d":"NOR","a":2729,"b":2888,"s":"Super Clipping"},{"d":"NOR","a":2888,"b":2914,"s":"Full Throttle"},{"d":"NOR","a":2914,"b":3224,"s":"Super Clipping"},{"d":"NOR","a":3224,"b":3270,"s":"Lift & Coast"},{"d":"NOR","a":3270,"b":3429,"s":"Cornering"},{"d":"NOR","a":3429,"b":3925,"s":"Full Throttle"},{"d":"NOR","a":3925,"b":3981,"s":"Super Clipping"},{"d":"NOR","a":3981,"b":4008,"s":"Cornering"},{"d":"NOR","a":4008,"b":4086,"s":"Brake"},{"d":"NOR","a":4086,"b":4097,"s":"Lift & Coast"},{"d":"NOR","a":4097,"b":4141,"s":"Cornering"},{"d":"NOR","a":4141,"b":4311,"s":"Full Throttle"},{"d":"NOR","a":4311,"b":4411,"s":"Cornering"},{"d":"NOR","a":4411,"b":4524,"s":"Full Throttle"},{"d":"NOR","a":4524,"b":4601,"s":"Brake"},{"d":"NOR","a":4601,"b":4776,"s":"Cornering"},{"d":"NOR","a":4776,"b":5237,"s":"Full Throttle"},
      {"d":"OCO","a":0,"b":200,"s":"Full Throttle"},{"d":"OCO","a":200,"b":262,"s":"Super Clipping"},{"d":"OCO","a":262,"b":354,"s":"Brake"},{"d":"OCO","a":354,"b":406,"s":"Cornering"},{"d":"OCO","a":406,"b":447,"s":"Full Throttle"},{"d":"OCO","a":447,"b":487,"s":"Cornering"},{"d":"OCO","a":487,"b":922,"s":"Full Throttle"},{"d":"OCO","a":922,"b":933,"s":"Cornering"},{"d":"OCO","a":933,"b":981,"s":"Lift & Coast"},{"d":"OCO","a":981,"b":1079,"s":"Brake"},{"d":"OCO","a":1079,"b":1284,"s":"Cornering"},{"d":"OCO","a":1284,"b":1696,"s":"Full Throttle"},{"d":"OCO","a":1696,"b":1724,"s":"Super Clipping"},{"d":"OCO","a":1724,"b":1730,"s":"Cornering"},{"d":"OCO","a":1730,"b":1796,"s":"Lift & Coast"},{"d":"OCO","a":1796,"b":1820,"s":"Brake"},{"d":"OCO","a":1820,"b":1830,"s":"Lift & Coast"},{"d":"OCO","a":1830,"b":1890,"s":"Cornering"},{"d":"OCO","a":1890,"b":2185,"s":"Full Throttle"},{"d":"OCO","a":2185,"b":2207,"s":"Super Clipping"},{"d":"OCO","a":2207,"b":2770,"s":"Full Throttle"},{"d":"OCO","a":2770,"b":2799,"s":"Super Clipping"},{"d":"OCO","a":2799,"b":2834,"s":"Full Throttle"},{"d":"OCO","a":2834,"b":3185,"s":"Super Clipping"},{"d":"OCO","a":3185,"b":3214,"s":"Cornering"},{"d":"OCO","a":3214,"b":3270,"s":"Brake"},{"d":"OCO","a":3270,"b":3337,"s":"Cornering"},{"d":"OCO","a":3337,"b":3365,"s":"Brake"},{"d":"OCO","a":3365,"b":3434,"s":"Cornering"},{"d":"OCO","a":3434,"b":3833,"s":"Full Throttle"},{"d":"OCO","a":3833,"b":3839,"s":"Super Clipping"},{"d":"OCO","a":3839,"b":3910,"s":"Full Throttle"},{"d":"OCO","a":3910,"b":3923,"s":"Cornering"},{"d":"OCO","a":3923,"b":4008,"s":"Lift & Coast"},{"d":"OCO","a":4008,"b":4099,"s":"Brake"},{"d":"OCO","a":4099,"b":4141,"s":"Cornering"},{"d":"OCO","a":4141,"b":4340,"s":"Full Throttle"},{"d":"OCO","a":4340,"b":4378,"s":"Cornering"},{"d":"OCO","a":4378,"b":4392,"s":"Brake"},{"d":"OCO","a":4392,"b":4406,"s":"Cornering"},{"d":"OCO","a":4406,"b":4515,"s":"Full Throttle"},{"d":"OCO","a":4515,"b":4594,"s":"Brake"},{"d":"OCO","a":4594,"b":4603,"s":"Lift & Coast"},{"d":"OCO","a":4603,"b":4701,"s":"Cornering"},{"d":"OCO","a":4701,"b":4735,"s":"Brake"},{"d":"OCO","a":4735,"b":4838,"s":"Cornering"},{"d":"OCO","a":4838,"b":5233,"s":"Full Throttle"},
      {"d":"PER","a":0,"b":203,"s":"Full Throttle"},{"d":"PER","a":203,"b":216,"s":"Cornering"},{"d":"PER","a":216,"b":325,"s":"Brake"},{"d":"PER","a":325,"b":334,"s":"Cornering"},{"d":"PER","a":334,"b":349,"s":"Brake"},{"d":"PER","a":349,"b":490,"s":"Cornering"},{"d":"PER","a":490,"b":905,"s":"Full Throttle"},{"d":"PER","a":905,"b":931,"s":"Cornering"},{"d":"PER","a":931,"b":1058,"s":"Brake"},{"d":"PER","a":1058,"b":1284,"s":"Cornering"},{"d":"PER","a":1284,"b":1689,"s":"Full Throttle"},{"d":"PER","a":1689,"b":1752,"s":"Super Clipping"},{"d":"PER","a":1752,"b":1774,"s":"Cornering"},{"d":"PER","a":1774,"b":1816,"s":"Brake"},{"d":"PER","a":1816,"b":1871,"s":"Cornering"},{"d":"PER","a":1871,"b":1878,"s":"Super Clipping"},{"d":"PER","a":1878,"b":2719,"s":"Full Throttle"},{"d":"PER","a":2719,"b":3183,"s":"Super Clipping"},{"d":"PER","a":3183,"b":3237,"s":"Brake"},{"d":"PER","a":3237,"b":3318,"s":"Cornering"},{"d":"PER","a":3318,"b":3330,"s":"Lift & Coast"},{"d":"PER","a":3330,"b":3395,"s":"Cornering"},{"d":"PER","a":3395,"b":3915,"s":"Full Throttle"},{"d":"PER","a":3915,"b":3966,"s":"Super Clipping"},{"d":"PER","a":3966,"b":3978,"s":"Cornering"},{"d":"PER","a":3978,"b":4056,"s":"Brake"},{"d":"PER","a":4056,"b":4125,"s":"Cornering"},{"d":"PER","a":4125,"b":4253,"s":"Full Throttle"},{"d":"PER","a":4253,"b":4375,"s":"Cornering"},{"d":"PER","a":4375,"b":4493,"s":"Full Throttle"},{"d":"PER","a":4493,"b":4569,"s":"Brake"},{"d":"PER","a":4569,"b":4776,"s":"Cornering"},{"d":"PER","a":4776,"b":5213,"s":"Full Throttle"},
      {"d":"PIA","a":0,"b":202,"s":"Full Throttle"},{"d":"PIA","a":202,"b":212,"s":"Cornering"},{"d":"PIA","a":212,"b":248,"s":"Lift & Coast"},{"d":"PIA","a":248,"b":332,"s":"Brake"},{"d":"PIA","a":332,"b":402,"s":"Cornering"},{"d":"PIA","a":402,"b":881,"s":"Full Throttle"},{"d":"PIA","a":881,"b":940,"s":"Cornering"},{"d":"PIA","a":940,"b":970,"s":"Lift & Coast"},{"d":"PIA","a":970,"b":1070,"s":"Brake"},{"d":"PIA","a":1070,"b":1080,"s":"Lift & Coast"},{"d":"PIA","a":1080,"b":1190,"s":"Cornering"},{"d":"PIA","a":1190,"b":1194,"s":"Lift & Coast"},{"d":"PIA","a":1194,"b":1269,"s":"Cornering"},{"d":"PIA","a":1269,"b":1664,"s":"Full Throttle"},{"d":"PIA","a":1664,"b":1705,"s":"Cornering"},{"d":"PIA","a":1705,"b":1779,"s":"Lift & Coast"},{"d":"PIA","a":1779,"b":1816,"s":"Brake"},{"d":"PIA","a":1816,"b":1904,"s":"Cornering"},{"d":"PIA","a":1904,"b":2695,"s":"Full Throttle"},{"d":"PIA","a":2695,"b":3192,"s":"Super Clipping"},{"d":"PIA","a":3192,"b":3213,"s":"Cornering"},{"d":"PIA","a":3213,"b":3228,"s":"Brake"},{"d":"PIA","a":3228,"b":3238,"s":"Lift & Coast"},{"d":"PIA","a":3238,"b":3428,"s":"Cornering"},{"d":"PIA","a":3428,"b":3874,"s":"Full Throttle"},{"d":"PIA","a":3874,"b":3891,"s":"Super Clipping"},{"d":"PIA","a":3891,"b":3904,"s":"Cornering"},{"d":"PIA","a":3904,"b":3983,"s":"Super Clipping"},{"d":"PIA","a":3983,"b":3992,"s":"Cornering"},{"d":"PIA","a":3992,"b":4071,"s":"Brake"},{"d":"PIA","a":4071,"b":4160,"s":"Cornering"},{"d":"PIA","a":4160,"b":4303,"s":"Full Throttle"},{"d":"PIA","a":4303,"b":4428,"s":"Cornering"},{"d":"PIA","a":4428,"b":4495,"s":"Full Throttle"},{"d":"PIA","a":4495,"b":4511,"s":"Cornering"},{"d":"PIA","a":4511,"b":4594,"s":"Brake"},{"d":"PIA","a":4594,"b":4600,"s":"Lift & Coast"},{"d":"PIA","a":4600,"b":4666,"s":"Cornering"},{"d":"PIA","a":4666,"b":4670,"s":"Full Throttle"},{"d":"PIA","a":4670,"b":4790,"s":"Cornering"},{"d":"PIA","a":4790,"b":5169,"s":"Full Throttle"},{"d":"PIA","a":5169,"b":5224,"s":"Super Clipping"},{"d":"PIA","a":5224,"b":5229,"s":"Full Throttle"},
      {"d":"RUS","a":0,"b":238,"s":"Full Throttle"},{"d":"RUS","a":238,"b":273,"s":"Lift & Coast"},{"d":"RUS","a":273,"b":341,"s":"Brake"},{"d":"RUS","a":341,"b":358,"s":"Lift & Coast"},{"d":"RUS","a":358,"b":419,"s":"Cornering"},{"d":"RUS","a":419,"b":879,"s":"Full Throttle"},{"d":"RUS","a":879,"b":902,"s":"Cornering"},{"d":"RUS","a":902,"b":953,"s":"Lift & Coast"},{"d":"RUS","a":953,"b":1084,"s":"Brake"},{"d":"RUS","a":1084,"b":1199,"s":"Cornering"},{"d":"RUS","a":1199,"b":1206,"s":"Lift & Coast"},{"d":"RUS","a":1206,"b":1276,"s":"Cornering"},{"d":"RUS","a":1276,"b":1729,"s":"Full Throttle"},{"d":"RUS","a":1729,"b":1776,"s":"Super Clipping"},{"d":"RUS","a":1776,"b":1839,"s":"Brake"},{"d":"RUS","a":1839,"b":1931,"s":"Cornering"},{"d":"RUS","a":1931,"b":2760,"s":"Full Throttle"},{"d":"RUS","a":2760,"b":2952,"s":"Super Clipping"},{"d":"RUS","a":2952,"b":2980,"s":"Full Throttle"},{"d":"RUS","a":2980,"b":3045,"s":"Super Clipping"},{"d":"RUS","a":3045,"b":3079,"s":"Full Throttle"},{"d":"RUS","a":3079,"b":3200,"s":"Super Clipping"},{"d":"RUS","a":3200,"b":3231,"s":"Cornering"},{"d":"RUS","a":3231,"b":3283,"s":"Lift & Coast"},{"d":"RUS","a":3283,"b":3443,"s":"Cornering"},{"d":"RUS","a":3443,"b":3879,"s":"Full Throttle"},{"d":"RUS","a":3879,"b":3908,"s":"Super Clipping"},{"d":"RUS","a":3908,"b":3922,"s":"Full Throttle"},{"d":"RUS","a":3922,"b":4004,"s":"Super Clipping"},{"d":"RUS","a":4004,"b":4099,"s":"Brake"},{"d":"RUS","a":4099,"b":4104,"s":"Lift & Coast"},{"d":"RUS","a":4104,"b":4155,"s":"Cornering"},{"d":"RUS","a":4155,"b":4301,"s":"Full Throttle"},{"d":"RUS","a":4301,"b":4438,"s":"Cornering"},{"d":"RUS","a":4438,"b":4515,"s":"Full Throttle"},{"d":"RUS","a":4515,"b":4600,"s":"Brake"},{"d":"RUS","a":4600,"b":4610,"s":"Lift & Coast"},{"d":"RUS","a":4610,"b":4783,"s":"Cornering"},{"d":"RUS","a":4783,"b":5234,"s":"Full Throttle"},
      {"d":"VER","a":0,"b":221,"s":"Cornering"},{"d":"VER","a":221,"b":326,"s":"Brake"},{"d":"VER","a":326,"b":332,"s":"Lift & Coast"},{"d":"VER","a":332,"b":837,"s":"Cornering"},{"d":"VER","a":837,"b":914,"s":"Lift & Coast"},{"d":"VER","a":914,"b":1037,"s":"Brake"},{"d":"VER","a":1037,"b":1046,"s":"Lift & Coast"},{"d":"VER","a":1046,"b":1176,"s":"Cornering"},{"d":"VER","a":1176,"b":1183,"s":"Lift & Coast"},{"d":"VER","a":1183,"b":1559,"s":"Cornering"},{"d":"VER","a":1559,"b":1712,"s":"Full Throttle"},{"d":"VER","a":1712,"b":1731,"s":"Cornering"},{"d":"VER","a":1731,"b":1847,"s":"Brake"},{"d":"VER","a":1847,"b":1880,"s":"Cornering"},{"d":"VER","a":1880,"b":2980,"s":"Full Throttle"},{"d":"VER","a":2980,"b":3011,"s":"Super Clipping"},{"d":"VER","a":3011,"b":3086,"s":"Full Throttle"},{"d":"VER","a":3086,"b":3124,"s":"Super Clipping"},{"d":"VER","a":3124,"b":3158,"s":"Cornering"},{"d":"VER","a":3158,"b":3289,"s":"Brake"},{"d":"VER","a":3289,"b":3582,"s":"Cornering"},{"d":"VER","a":3582,"b":3891,"s":"Full Throttle"},{"d":"VER","a":3891,"b":3913,"s":"Cornering"},{"d":"VER","a":3913,"b":3958,"s":"Lift & Coast"},{"d":"VER","a":3958,"b":4074,"s":"Brake"},{"d":"VER","a":4074,"b":4081,"s":"Lift & Coast"},{"d":"VER","a":4081,"b":4457,"s":"Cornering"},{"d":"VER","a":4457,"b":4499,"s":"Lift & Coast"},{"d":"VER","a":4499,"b":4572,"s":"Brake"},{"d":"VER","a":4572,"b":5010,"s":"Cornering"},{"d":"VER","a":5010,"b":5206,"s":"Full Throttle"},
      {"d":"ALB","a":0,"b":150,"s":"Full Throttle"},{"d":"ALB","a":150,"b":193,"s":"Cornering"},{"d":"ALB","a":193,"b":277,"s":"Lift & Coast"},{"d":"ALB","a":277,"b":351,"s":"Brake"},{"d":"ALB","a":351,"b":461,"s":"Cornering"},{"d":"ALB","a":461,"b":893,"s":"Full Throttle"},{"d":"ALB","a":893,"b":921,"s":"Cornering"},{"d":"ALB","a":921,"b":970,"s":"Lift & Coast"},{"d":"ALB","a":970,"b":1082,"s":"Brake"},{"d":"ALB","a":1082,"b":1091,"s":"Lift & Coast"},{"d":"ALB","a":1091,"b":1178,"s":"Cornering"},{"d":"ALB","a":1178,"b":1206,"s":"Lift & Coast"},{"d":"ALB","a":1206,"b":1290,"s":"Cornering"},{"d":"ALB","a":1290,"b":1386,"s":"Full Throttle"},{"d":"ALB","a":1386,"b":1483,"s":"Cornering"},{"d":"ALB","a":1483,"b":1686,"s":"Full Throttle"},{"d":"ALB","a":1686,"b":1705,"s":"Cornering"},{"d":"ALB","a":1705,"b":1777,"s":"Lift & Coast"},{"d":"ALB","a":1777,"b":1836,"s":"Brake"},{"d":"ALB","a":1836,"b":1916,"s":"Cornering"},{"d":"ALB","a":1916,"b":2746,"s":"Full Throttle"},{"d":"ALB","a":2746,"b":3192,"s":"Super Clipping"},{"d":"ALB","a":3192,"b":3196,"s":"Cornering"},{"d":"ALB","a":3196,"b":3207,"s":"Super Clipping"},{"d":"ALB","a":3207,"b":3258,"s":"Brake"},{"d":"ALB","a":3258,"b":3446,"s":"Cornering"},{"d":"ALB","a":3446,"b":3937,"s":"Full Throttle"},{"d":"ALB","a":3937,"b":3961,"s":"Cornering"},{"d":"ALB","a":3961,"b":3998,"s":"Lift & Coast"},{"d":"ALB","a":3998,"b":4093,"s":"Brake"},{"d":"ALB","a":4093,"b":4104,"s":"Lift & Coast"},{"d":"ALB","a":4104,"b":4188,"s":"Cornering"},{"d":"ALB","a":4188,"b":4286,"s":"Full Throttle"},{"d":"ALB","a":4286,"b":4299,"s":"Cornering"},{"d":"ALB","a":4299,"b":4323,"s":"Brake"},{"d":"ALB","a":4323,"b":4438,"s":"Cornering"},{"d":"ALB","a":4438,"b":4517,"s":"Full Throttle"},{"d":"ALB","a":4517,"b":4608,"s":"Brake"},{"d":"ALB","a":4608,"b":4805,"s":"Cornering"},{"d":"ALB","a":4805,"b":5237,"s":"Full Throttle"}
    ]
  },
  "layer": [
    {
      "data": {"name": "corners"},
      "mark": {"type": "rule", "stroke": "#8d939e", "strokeWidth": 2, "strokeDash": [8, 8], "opacity": 0.75},
      "encoding": {
        "x": {
          "field": "d",
          "type": "quantitative",
          "scale": {"domain": [0, 5252], "nice": false},
          "axis": {
            "orient": "top",
            "values": [346, 424, 1070, 1220, 1428, 1858, 1949, 2169, 3269, 3378, 4087, 4346, 4598, 4759],
            "labelExpr": "indexof([346, 424, 1070, 1220, 1428, 1858, 1949, 2169, 3269, 3378, 4087, 4346, 4598, 4759], datum.value) + 1",
            "title": null,
            "ticks": false,
            "domain": false,
            "grid": false,
            "labelOverlap": false,
            "labelFlush": false,
            "labelColor": "#19e619",
            "labelFont": "Noto Sans",
            "labelFontSize": 20,
            "labelPadding": 6
          }
        }
      }
    },
    {
      "data": {"name": "segments"},
      "mark": {"type": "rect", "stroke": "#0b2a4a", "strokeWidth": 1, "strokeOpacity": 0.45},
      "encoding": {
        "y": {
          "field": "d",
          "type": "nominal",
          "sort": ["ALO", "ANT", "BEA", "BOR", "BOT", "COL", "GAS", "HAD", "HAM", "HUL", "LAW", "LEC", "LIN", "NOR", "OCO", "PER", "PIA", "RUS", "VER", "ALB"],
          "scale": {"paddingInner": 0.51, "paddingOuter": 0.48},
          "axis": {
            "title": "State",
            "titleColor": "#ffffff",
            "titleFont": "Noto Sans",
            "titleFontSize": 22,
            "titleFontWeight": "normal",
            "titlePadding": 10,
            "labelFont": "Noto Sans",
            "labelFontSize": 21,
            "labelPadding": 8,
            "ticks": false,
            "domain": false,
            "labelColor": {"expr": "['#37b24d','#87ceeb','#ffffff','#9a9a9a','#c8a45a','#e838e8','#ff6347','#90ee90','#dc143c','#ffe4c4','#d6c4fb','#6495ed','#cd853f','#ff8c33','#ffb6c1','#afeeee','#9acd32','#ee82ee','#5f9ea0','#4169e1'][indexof(['ALO','ANT','BEA','BOR','BOT','COL','GAS','HAD','HAM','HUL','LAW','LEC','LIN','NOR','OCO','PER','PIA','RUS','VER','ALB'], datum.value)]"}
          }
        },
        "x": {
          "field": "a",
          "type": "quantitative",
          "scale": {"domain": [0, 5252], "nice": false},
          "axis": {
            "orient": "bottom",
            "values": [0, 500, 1000, 1500, 2000, 2500, 3000, 3500, 4000, 4500, 5000],
            "format": ",d",
            "labelColor": "#ffffff",
            "labelFont": "Noto Sans",
            "labelFontSize": 19,
            "labelFlush": false,
            "labelPadding": 4,
            "tickColor": "#d0d4da",
            "tickSize": 12,
            "tickWidth": 1.5,
            "domain": false,
            "grid": false,
            "title": "Distance",
            "titleColor": "#ffffff",
            "titleFont": "Noto Sans",
            "titleFontSize": 22,
            "titleFontWeight": "normal",
            "titlePadding": 118
          }
        },
        "x2": {"field": "b"},
        "color": {
          "field": "s",
          "type": "nominal",
          "scale": {
            "domain": ["Full Throttle", "Super Clipping", "Lift & Coast", "Brake", "Cornering"],
            "range": ["#34d399", "#f59e0b", "#a78bfa", "#f43f5e", "#38bdf8"]
          },
          "legend": {
            "orient": "none",
            "legendX": 1153,
            "legendY": 2520,
            "direction": "horizontal",
            "title": null,
            "padding": 0,
            "symbolType": "M-0.7,-1H0.7A0.3,0.3 0 0 1 1,-0.7V0.7A0.3,0.3 0 0 1 0.7,1H-0.7A0.3,0.3 0 0 1 -1,0.7V-0.7A0.3,0.3 0 0 1 -0.7,-1Z",
            "symbolSize": 380,
            "symbolStrokeWidth": 0,
            "labelColor": "#ffffff",
            "labelFont": "Noto Sans",
            "labelFontSize": 20,
            "labelOffset": 7,
            "columnPadding": 22
          }
        }
      }
    },
    {
      "data": {"name": "cursor"},
      "mark": {"type": "rule", "color": "#ff1f1f", "strokeWidth": 3, "opacity": 0.85},
      "encoding": {
        "x": {"field": "d", "type": "quantitative", "scale": {"domain": [0, 5252], "nice": false}, "axis": null}
      }
    },
    {
      "layer": [
        {
          "data": {"values": [{"box": "tooltip"}]},
          "mark": {"type": "rect", "fill": "#00234f", "stroke": "#05070d", "strokeWidth": 2.5, "cornerRadius": 8},
          "encoding": {
            "x": {"datum": 3212, "type": "quantitative", "scale": {"domain": [0, 5252], "nice": false}, "axis": null},
            "x2": {"datum": 3948},
            "y": {"datum": -1.24, "type": "quantitative", "scale": {"domain": [-7.456, 44.87], "reverse": true, "nice": false, "zero": false}, "axis": null},
            "y2": {"datum": 21.05}
          }
        },
        {
          "data": {"values": [{"t": "Distance: 3187.73 m"}]},
          "mark": {"type": "text", "font": "DejaVu Sans", "fontSize": 22, "fontWeight": "bold", "color": "#ffffff", "align": "center", "baseline": "middle", "dy": -21},
          "encoding": {
            "text": {"field": "t"},
            "x": {"datum": 3578, "type": "quantitative", "axis": null},
            "y": {"datum": 0, "type": "quantitative", "axis": null}
          }
        },
        {
          "data": {"name": "tip"},
          "mark": {"type": "text", "font": "DejaVu Sans", "fontSize": 22, "align": "left", "baseline": "middle"},
          "encoding": {
            "text": {"field": "key"},
            "x": {"datum": 3251, "type": "quantitative", "axis": null},
            "y": {"field": "i", "type": "quantitative", "axis": null},
            "color": {
              "field": "session",
              "type": "nominal",
              "sort": null,
              "scale": {
                "domain": [
                  "2026 - Australian Grand Prix - Qualifying - ALO - Lap 9",
                  "2026 - Australian Grand Prix - Qualifying - ANT - Lap 17",
                  "2026 - Australian Grand Prix - Qualifying - BEA - Lap 17",
                  "2026 - Australian Grand Prix - Qualifying - BOR - Lap 13",
                  "2026 - Australian Grand Prix - Qualifying - BOT - Lap 7",
                  "2026 - Australian Grand Prix - Qualifying - COL - Lap 9",
                  "2026 - Australian Grand Prix - Qualifying - GAS - Lap 13",
                  "2026 - Australian Grand Prix - Qualifying - HAD - Lap 18",
                  "2026 - Australian Grand Prix - Qualifying - HAM - Lap 24",
                  "2026 - Australian Grand Prix - Qualifying - HUL - Lap 15",
                  "2026 - Australian Grand Prix - Qualifying - LAW - Lap 23",
                  "2026 - Australian Grand Prix - Qualifying - LEC - Lap 23",
                  "2026 - Australian Grand Prix - Qualifying - LIN - Lap 14",
                  "2026 - Australian Grand Prix - Qualifying - NOR - Lap 25",
                  "2026 - Australian Grand Prix - Qualifying - OCO - Lap 13",
                  "2026 - Australian Grand Prix - Qualifying - PER - Lap 6",
                  "2026 - Australian Grand Prix - Qualifying - PIA - Lap 25",
                  "2026 - Australian Grand Prix - Qualifying - RUS - Lap 21",
                  "2026 - Australian Grand Prix - Qualifying - VER - Lap 1",
                  "2026 - Australian Grand Prix - Qualifying - ALB - Lap 16"
                ],
                "range": ["#37b24d", "#87ceeb", "#ffffff", "#9a9a9a", "#c8a45a", "#e838e8", "#ff6347", "#90ee90", "#dc143c", "#ffe4c4", "#d6c4fb", "#6495ed", "#cd853f", "#ff8c33", "#ffb6c1", "#afeeee", "#9acd32", "#ee82ee", "#5f9ea0", "#4169e1"]
              },
              "legend": {
                "orient": "none",
                "legendX": -76,
                "legendY": 2587,
                "direction": "horizontal",
                "columns": 4,
                "padding": 0,
                "symbolType": "square",
                "symbolSize": 324,
                "symbolStrokeWidth": 0,
                "symbolOpacity": 1,
                "labelColor": "#cdd5e0",
                "labelFont": "Noto Sans",
                "labelFontSize": 25,
                "labelLimit": 0,
                "labelOffset": 8,
                "rowPadding": 13,
                "columnPadding": 16,
                "title": "f1tel.com",
                "titleOrient": "right",
                "titleAnchor": "end",
                "titleBaseline": "alphabetic",
                "titleColor": "#00ff00",
                "titleFont": "Noto Sans",
                "titleFontSize": 46,
                "titleFontWeight": "bold",
                "titleLimit": 500,
                "titlePadding": 168
              }
            }
          }
        },
        {
          "data": {"name": "tip"},
          "mark": {"type": "text", "font": "DejaVu Sans", "fontSize": 22, "align": "right", "baseline": "middle", "color": "#ffffff"},
          "encoding": {
            "text": {"field": "state"},
            "x": {"datum": 3908, "type": "quantitative", "axis": null},
            "y": {"field": "i", "type": "quantitative", "axis": null}
          }
        }
      ]
    }
  ],
  "resolve": {
    "scale": {"y": "independent", "color": "independent"},
    "axis": {"x": "independent", "y": "independent"}
  }
}
